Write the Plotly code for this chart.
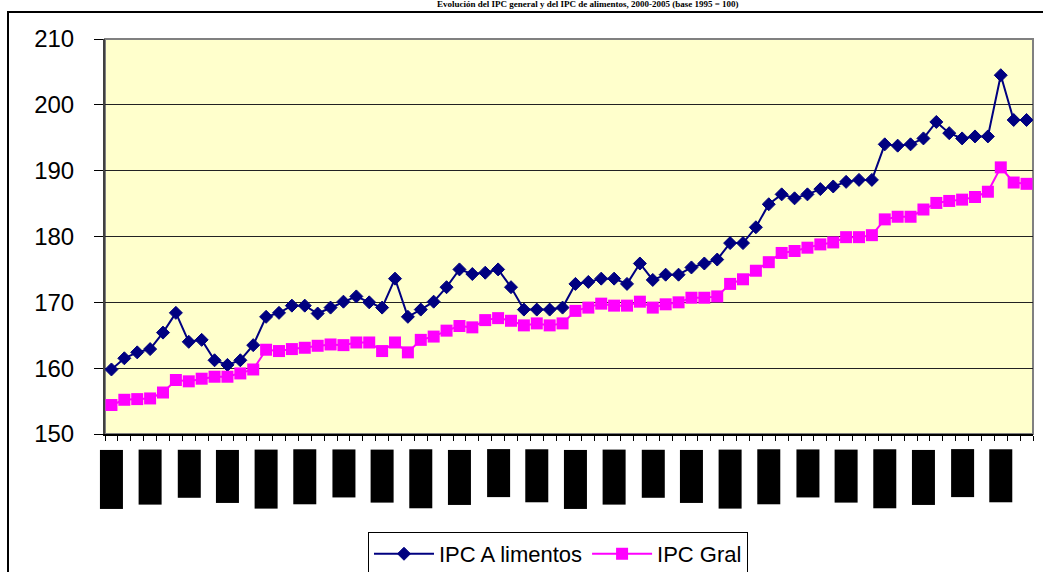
import plotly.graph_objects as go

months = ["ene", "feb", "mar", "abr", "may", "jun", "jul", "ago", "sep", "oct", "nov", "dic"]
years = ["00", "01", "02", "03", "04", "05"]
categories = [f"{m}-{y}" for y in years for m in months]

ipc_alimentos = [
    159.8, 161.5, 162.4, 162.9, 165.4, 168.4, 164.0, 164.3, 161.2, 160.5, 161.2, 163.5,
    167.8, 168.4, 169.5, 169.5, 168.3, 169.2, 170.1, 170.9, 170.0, 169.2, 173.6, 167.8,
    168.9, 170.1, 172.3, 175.0, 174.3, 174.5, 175.0, 172.3, 168.9, 168.9, 168.9, 169.2,
    172.8, 173.1, 173.6, 173.6, 172.8, 175.9, 173.4, 174.2, 174.2, 175.3, 175.9, 176.5,
    179.0, 179.0, 181.4, 184.9, 186.4, 185.8, 186.4, 187.2, 187.6, 188.3, 188.6, 188.6,
    194.0, 193.8, 194.0, 194.9, 197.4, 195.7, 194.9, 195.2, 195.2, 204.5, 197.7, 197.7,
]
ipc_gral = [
    154.4, 155.2, 155.3, 155.4, 156.3, 158.2, 158.0, 158.4, 158.7, 158.7, 159.2, 159.8,
    162.8, 162.6, 162.9, 163.1, 163.4, 163.6, 163.5, 163.9, 163.9, 162.6, 163.9, 162.4,
    164.3, 164.8, 165.7, 166.4, 166.2, 167.3, 167.6, 167.2, 166.5, 166.8, 166.5, 166.8,
    168.7, 169.2, 169.8, 169.5, 169.5, 170.1, 169.2, 169.7, 170.0, 170.7, 170.7, 170.9,
    172.8, 173.5, 174.8, 176.1, 177.5, 177.8, 178.3, 178.8, 179.1, 179.9, 179.9, 180.2,
    182.6, 183.0, 183.0, 184.1, 185.1, 185.4, 185.6, 186.0, 186.8, 190.5, 188.2, 188.0,
]
y_ticks = [150, 160, 170, 180, 190, 200, 210]
title_text = "Evolución del IPC general y del IPC de alimentos, 2000-2005 (base 1995 = 100)"

fig = go.Figure()
fig.add_trace(go.Scatter(
    x=categories, y=ipc_alimentos, name="IPC A limentos", mode="lines+markers",
    line=dict(color="#000080", width=2),
    marker=dict(symbol="diamond", size=10, color="#000080", line=dict(width=1, color="#000080")),
))
fig.add_trace(go.Scatter(
    x=categories, y=ipc_gral, name="IPC Gral", mode="lines+markers",
    line=dict(color="#FF00FF", width=2),
    marker=dict(symbol="square", size=12, color="#FF00FF", line=dict(width=0)),
))

annotations = []
for i in range(0, len(categories), 3):
    annotations.append(dict(
        x=categories[i], y=0, xref="x", yref="paper", yshift=-15,
        text=categories[i], textangle=-90, showarrow=False,
        xanchor="center", yanchor="top",
        font=dict(family="Arial", size=18, color="black"),
        bgcolor="black", borderpad=1,
    ))
annotations.append(dict(
    x=0.52, y=1, xref="paper", yref="paper", yshift=28, showarrow=False,
    text="<b>" + title_text + "</b>", xanchor="center", yanchor="bottom",
    font=dict(family="Liberation Serif", size=9, color="black"),
))

shapes = [
    # plot area border (top/right)
    dict(type="rect", xref="paper", yref="paper", x0=0, x1=1, y0=0, y1=1,
         line=dict(color="#808080", width=2), layer="below"),
]

fig.update_layout(
    width=1043, height=572,
    margin=dict(l=105, r=10, t=39, b=138, autoexpand=False),
    paper_bgcolor="white", plot_bgcolor="#FFFFCC",
    font=dict(family="Arial", color="black"),
    showlegend=True,
    legend=dict(
        orientation="h", x=0.2834, xanchor="left", y=-0.248, yanchor="top",
        bordercolor="black", borderwidth=1, bgcolor="white",
        font=dict(family="Arial", size=22, color="black"),
        itemwidth=60,
    ),
    annotations=annotations,
    shapes=shapes,
)
fig.update_xaxes(
    type="category", range=[-0.5, len(categories) - 0.5], automargin=False,
    showgrid=False, showticklabels=False,
    ticks="outside", tickson="boundaries", ticklen=5, tickcolor="black", tickwidth=1,
    tickmode="linear", dtick=1,
    showline=True, linecolor="black", linewidth=1.5,
)
fig.update_yaxes(
    range=[150, 210], tickvals=y_ticks, automargin=False,
    showgrid=True, gridcolor="#222222", gridwidth=1,
    ticks="outside", ticklen=9, tickcolor="black",
    showline=True, linecolor="#404040", linewidth=2,
    tickfont=dict(family="Arial", size=24, color="black"),
    ticklabelstandoff=15, zeroline=False,
)

page_js = (
    "document.body.style.margin='0';"
    "document.body.style.overflow='hidden';"
    "var f=document.createElement('div');"
    "f.style.cssText='position:absolute;left:7px;top:11px;width:1036px;height:561px;"
    "box-sizing:border-box;border-left:2px solid #000;border-top:2px solid #000;"
    "pointer-events:none;z-index:1000;';"
    "document.body.appendChild(f);"
)
fig.write_html("out.html", config={"displayModeBar": False}, post_script=page_js)
